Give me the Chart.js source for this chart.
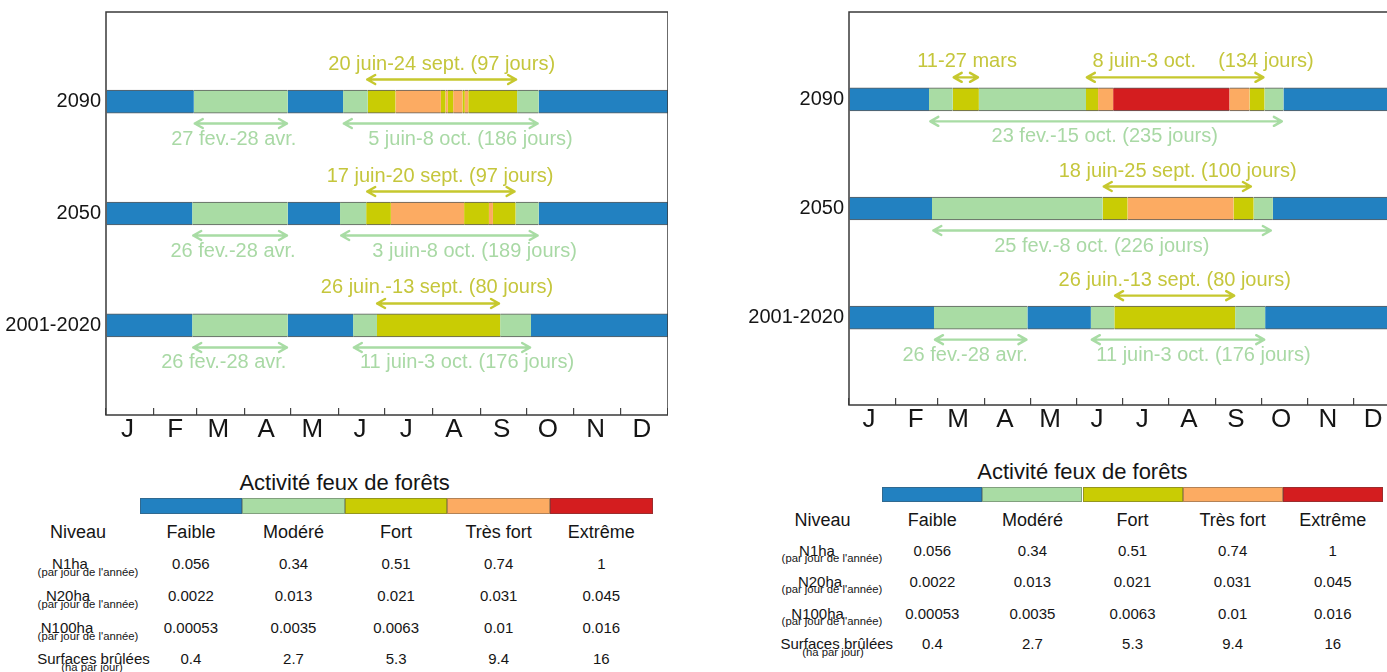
<!DOCTYPE html>
<html><head><meta charset="utf-8">
<script src="https://cdn.jsdelivr.net/npm/chart.js@4.4.1/dist/chart.umd.min.js"></script>
<style>
html,body{margin:0;padding:0;background:#fff;}
body{width:1387px;height:672px;overflow:hidden;position:relative;font-family:"Liberation Sans",Arial,sans-serif;color:#151515;}
.wrap{position:absolute;top:0;}
.t{position:absolute;transform:translate(-50%,-50%);white-space:pre;line-height:1;}
.cell{position:absolute;box-sizing:border-box;border:1px solid rgba(70,70,70,.4);}
</style></head><body>
<div class="wrap" style="left:0;width:668px;height:455px"><canvas id="cL" width="668" height="455"></canvas></div>
<div class="wrap" style="left:743px;width:657px;height:445px"><canvas id="cR" width="657" height="445"></canvas></div>
<div id="legL"></div><div id="legR"></div>
<script>
// ---------- DATA ----------
const months = ['J','F','M','A','M','J','J','A','S','O','N','D'];
const monthStarts = [0,31,59,90,120,151,181,212,243,273,304,334,365];
const periods = ['2001-2020','2050','2090'];
const levels = ['Faible','Modéré','Fort','Très fort','Extrême'];

// segments: [start day, end day, level index]
const left2001 = [[0,56,0],[56,118,1],[118,160.5,0],[160.5,176,1],[176,256,2],[256,276,1],[276,365,0]];
const left2050 = [[0,56,0],[56,118,1],[118,152,0],[152,169,1],[169,185,2],[185,232.6,3],[232.6,248.7,2],[248.7,251.3,3],[251.3,266,2],[266,281,1],[281,365,0]];
const left2090 = [[0,57,0],[57,118,1],[118,154,0],[154,170,1],[170,188,2],[188,217.5,3],[217.5,220.5,2],[220.5,222,3],[222,225.5,2],[225.5,231.5,3],[231.5,233,2],[233,235.3,3],[235.3,267,2],[267,281,1],[281,365,0]];
const right2001 = [[0,56.3,0],[56.3,118.2,1],[118.2,160.2,0],[160.2,175.8,1],[175.8,255.8,2],[255.8,275.7,1],[275.7,365,0]];
const right2050 = [[0,55,0],[55,168,1],[168,184.5,2],[184.5,254.7,3],[254.7,268,2],[268,280.8,1],[280.8,365,0]];
const right2090 = [[0,53,0],[53,68.7,1],[68.7,86,2],[86,157,1],[157,165,2],[165,175,3],[175,252,4],[252,265.3,3],[265.3,275.2,2],[275.2,287.8,1],[287.8,365,0]];

// arrows: [row, start day, end day, level (2 = Fort, above; 1 = Modéré, below), label, label centre day]
const leftArrows = [
  [2,169,267,2,'20 juin-24 sept. (97 jours)',218],
  [2,57,118.2,1,'27 fev.-28 avr.',83],
  [2,153.8,281,1,'5 juin-8 oct. (186 jours)',236.7],
  [1,169,266,2,'17 juin-20 sept. (97 jours)',217],
  [1,56,118.2,1,'26 fev.-28 avr.',82.5],
  [1,152.1,281,1,'3 juin-8 oct. (189 jours)',239.4],
  [0,175.4,255.9,2,'26 juin.-13 sept. (80 jours)',215],
  [0,56,118.2,1,'26 fev.-28 avr.',76.5],
  [0,160.3,276.1,1,'11 juin-3 oct. (176 jours)',234.5]
];
const rightArrows = [
  [2,68.7,86.1,2,'11-27 mars',78.2],
  [2,156.9,275.2,2,'8 juin-3 oct.    (134 jours)',234.6],
  [2,53.2,287.4,1,'23 fev.-15 oct. (235 jours)',169.4],
  [1,168.1,266.9,2,'18 juin-25 sept. (100 jours)',217.7],
  [1,55.2,280.1,1,'25 fev.-8 oct. (226 jours)',167.5],
  [0,175.6,255.8,2,'26 juin.-13 sept. (80 jours)',215.8],
  [0,56.3,118.2,1,'26 fev.-28 avr.',76.9],
  [0,160.2,275.7,1,'11 juin-3 oct. (176 jours)',234.8]
];

// legend table
const legendTitle = 'Activité feux de forêts';
const headerName = 'Niveau';
const tableNames = ['N1ha','N20ha','N100ha','Surfaces brûlées'];
const tableUnits = ["(par jour de l'année)","(par jour de l'année)","(par jour de l'année)",'(ha par jour)'];
const n1ha = ['0.056','0.34','0.51','0.74','1'];
const n20ha = ['0.0022','0.013','0.021','0.031','0.045'];
const n100ha = ['0.00053','0.0035','0.0063','0.01','0.016'];
const surfaces = ['0.4','2.7','5.3','9.4','16'];

// ---------- STYLE ----------
const FONT = '"Liberation Sans", Arial, sans-serif';
const levelColors = ['#2281c1','#a9dca4','#c9cc04','#fcab62','#d41d1f'];
const annLine = {1:'#a8dca4', 2:'#c6c82e'};
const annText = {1:'#a9d9a5', 2:'#c5c63c'};

const framePlugin = {
  id:'frame',
  afterDatasetsDraw(chart){
    const {ctx, chartArea:a} = chart;
    ctx.save(); ctx.strokeStyle='#3a3a3a'; ctx.lineWidth=1.5;
    ctx.strokeRect(a.left, a.top, a.right-a.left, a.bottom-a.top);
    ctx.restore();
  }
};
const arrowPlugin = {
  id:'arrows',
  afterDatasetsDraw(chart, args, opts){
    const {ctx} = chart; const x = chart.scales.x, y = chart.scales.y;
    ctx.save();
    opts.list.forEach(([row,s,e,lev,text,tDay]) => {
      const above = lev === 2;
      const yRow = y.getPixelForValue(row);
      const yc = yRow + (above ? -opts.arrowGap : opts.arrowGap);
      const x1 = x.getPixelForValue(s), x2 = x.getPixelForValue(e);
      const h = 9, w = 4.5;
      ctx.strokeStyle = annLine[lev]; ctx.lineWidth = 2.4; ctx.lineCap='round'; ctx.lineJoin='round';
      ctx.beginPath();
      ctx.moveTo(x1+1, yc); ctx.lineTo(x2-1, yc);
      ctx.moveTo(x1+h, yc-w); ctx.lineTo(x1+1, yc); ctx.lineTo(x1+h, yc+w);
      ctx.moveTo(x2-h, yc-w); ctx.lineTo(x2-1, yc); ctx.lineTo(x2-h, yc+w);
      ctx.stroke();
      ctx.fillStyle = annText[lev]; ctx.font = '20px ' + FONT;
      ctx.textAlign='center'; ctx.textBaseline='middle';
      ctx.fillText(text, x.getPixelForValue(tDay), yRow + (above ? -opts.textGap : opts.textGap));
    });
    ctx.restore();
  }
};

function makeChart(id, segRows, arrows, st){
  const datasets = [];
  segRows.forEach((rowSegs, r) => rowSegs.forEach(([s,e,l]) => datasets.push({
    data:[{x:[s,e], y:r}],
    backgroundColor: levelColors[l],
    borderColor:'#5d5d5d',
    borderWidth:{top:1,bottom:1,left:0,right:0},
    borderSkipped:false,
    barThickness: st.barH,
    grouped:false
  })));
  return new Chart(document.getElementById(id), {
    type:'bar',
    data:{datasets},
    options:{
      indexAxis:'y', responsive:false, animation:false, devicePixelRatio:1,
      layout:{padding:{top:st.padTop,left:0,right:0,bottom:0}},
      plugins:{legend:{display:false}, tooltip:{enabled:false},
        arrows:{list:arrows, arrowGap:22, textGap:37.5}},
      scales:{
        x:{type:'linear', min:0, max:365, position:'bottom', offset:false,
          afterBuildTicks: sc => { sc.ticks = monthStarts.map(v => ({value:v})); },
          afterFit: sc => { sc.height = st.xH; sc.paddingLeft = 0; sc.paddingRight = 0; },
          border:{display:false},
          grid:{drawOnChartArea:false, drawTicks:true, tickLength:-7, color:'#444', lineWidth:1.2, offset:false},
          ticks:{autoSkip:false, maxRotation:0, minRotation:0, labelOffset:st.labelOffset, padding:st.xPad,
            color:'#151515', font:{family:FONT, size:26},
            callback:(v,i) => months[i] ?? ''}
        },
        y:{type:'linear', min:-0.8, max:2.8, offset:false,
          afterBuildTicks: sc => { sc.ticks = periods.map((p,i) => ({value:i})); },
          afterFit: sc => { sc.width = st.yW; sc.paddingTop = 0; sc.paddingBottom = 0; },
          border:{display:false}, grid:{display:false, drawTicks:false, tickLength:0, offset:false},
          ticks:{padding:5, color:'#151515', font:{family:FONT, size:20}, callback:v => periods[v]}
        }
      }
    },
    plugins:[framePlugin, arrowPlugin]
  });
}

makeChart('cL', [left2001,left2050,left2090], leftArrows, {barH:23, padTop:12, xH:40, yW:106, labelOffset:21.5, xPad:6});
makeChart('cR', [right2001,right2050,right2090], rightArrows, {barH:23, padTop:12, xH:40, yW:106, labelOffset:20, xPad:6});

function buildLegend(container, L){
  const add = (text, x, y, size) => {
    const d = document.createElement('div'); d.className='t'; d.textContent = text;
    d.style.cssText = `left:${x}px;top:${y}px;font-size:${size}px;`;
    container.appendChild(d);
  };
  add(legendTitle, L.titleX, L.titleY, 22);
  levels.forEach((lv,i) => {
    const c = document.createElement('div'); c.className='cell';
    c.style.cssText = `left:${L.barX + i*L.cellW}px;top:${L.barY}px;width:${L.cellW}px;height:${L.barH}px;background:${levelColors[i]};`;
    container.appendChild(c);
    add(lv, L.barX + (i+0.5)*L.cellW, L.headY, 18);
  });
  add(headerName, L.nivX, L.headY, 18);
  [n1ha,n20ha,n100ha,surfaces].forEach((vals,r) => {
    add(tableNames[r], L.nameX[r], L.rowY[r], 15);
    add(tableUnits[r], L.subX[r], L.rowY[r] + L.subDy, 11.3);
    vals.forEach((v,i) => add(v, L.barX + (i+0.5)*L.cellW, L.rowY[r], 15));
  });
}
buildLegend(document.getElementById('legL'), {titleX:344.6, titleY:483.3, barX:139.6, barY:498.3, cellW:102.6, barH:15.7,
  headY:531.7, nivX:78, rowY:[563.3,595,626.7,658.3], nameX:[70,68,67,93.5], subX:[88,88,88,92], subDy:10});
buildLegend(document.getElementById('legR'), {titleX:1082.4, titleY:471.7, barX:882.3, barY:487.3, cellW:100.1, barH:15,
  headY:520, nivX:822.5, rowY:[550,581,612.7,643.3], nameX:[817,820,817.6,836.8], subX:[832,832,832,833], subDy:9.3});
</script>
</body></html>
